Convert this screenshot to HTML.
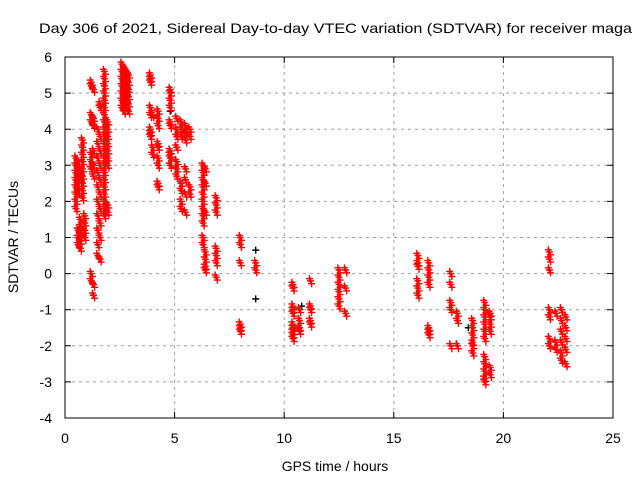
<!DOCTYPE html>
<html><head><meta charset="utf-8"><style>
body{margin:0;background:#fff}
svg{display:block;font-family:"Liberation Sans",sans-serif}
</style></head><body>
<svg id="chart" width="640" height="480" viewBox="0 0 640 480">
<rect width="640" height="480" fill="#fff"/>
<text x="39" y="33" font-size="14" textLength="593" lengthAdjust="spacingAndGlyphs">Day 306 of 2021, Sidereal Day-to-day VTEC variation (SDTVAR) for receiver maga</text>
<g id="grid"></g>
<g id="axes"></g>
<g id="marks"></g>
<rect x="65" y="57" width="548" height="361" fill="none" stroke="#000" stroke-width="1"/>
<text x="335" y="471" font-size="14" text-anchor="middle">GPS time / hours</text>
<text transform="translate(18,237) rotate(-90)" font-size="14" text-anchor="middle">SDTVAR / TECUs</text>
</svg>
<script>
const xTicks=[0,5,10,15,20,25];
const yTicks=[-4,-3,-2,-1,0,1,2,3,4,5,6];
// red series: [hour, [y values...]]
const redTracks=[
[0.5,[3.2,3.0,2.8,2.6,2.4,2.2,2.0,1.8]],
[0.6,[3.1,2.9,2.7,2.5,2.3,1.2,1.0,0.8]],
[0.7,[1.5,1.3,1.1,0.9,0.7,2.6,2.8]],
[0.8,[3.7,3.5,3.3,3.1,2.9,2.7,2.5,2.3,2.1]],
[0.9,[1.6,1.4,1.2,1.0]],
[1.2,[5.3,5.2,4.4,4.2,3.3,3.1,2.9,0.0,-0.2]],
[1.3,[5.1,4.3,4.1,3.4,3.0,2.7,-0.3,-0.6]],
[1.5,[4.0,3.6,3.2,2.8,2.4,2.0,1.6,1.2,0.8,0.5]],
[1.6,[4.7,4.6,3.8,3.4,3.0,2.6,2.2,1.8,1.4,1.0,0.4]],
[1.8,[5.6,5.4,5.2,5.0,4.8,4.6,4.4,4.2,4.0,3.8,3.6,3.4,3.2,3.0,2.8,2.6,2.4,2.2,2.0,1.8,1.6]],
[1.95,[4.2,4.0,3.8,3.6,3.4,3.2,3.0,1.9,1.7]],
[2.6,[5.8,5.6,5.4,5.2,5.0,4.8,4.6]],
[2.7,[5.7,5.5,5.3,5.1,4.9,4.7,4.5]],
[2.8,[5.6,5.4,5.2,5.0,4.8,4.6]],
[2.9,[5.5,5.3,5.1,4.9,4.7,4.5]],
[3.9,[5.5,5.4,5.3,4.6,4.4,4.0,3.9,3.8]],
[4.0,[4.4,3.5,3.3]],
[4.25,[4.5,4.3,4.1,3.6,3.5,3.2,3.0,2.5,2.4]],
[4.8,[5.1,5.0,4.8,4.6,4.2,4.1,3.4,3.3,3.2,3.0]],
[5.1,[4.3,4.0,3.8,3.5,3.1,2.9,2.7]],
[5.3,[4.2,4.0,3.8,2.5,2.3,2.0,1.8]],
[5.5,[4.1,3.9,3.7,2.9,2.6,2.2,1.7]],
[5.7,[4.0,3.8,2.4,2.2]],
[6.3,[3.0,2.8,2.6,2.4,2.2,2.0,1.8,1.6,1.4,1.0,0.8]],
[6.4,[2.9,2.5,1.7,0.6,0.4,0.2,0.1]],
[6.9,[2.1,1.9,1.7,0.7,0.5,0.3,-0.1]],
[8.0,[1.0,0.8,0.3,-1.4,-1.5,-1.6]],
[8.7,[0.3,0.1]],
[10.4,[-0.3,-0.4,-0.9,-1.0,-1.1,-1.4,-1.5,-1.6,-1.7,-1.8]],
[10.7,[-1.0,-1.3,-1.5,-1.6]],
[11.2,[-0.2,-0.9,-1.0,-1.3,-1.4]],
[12.5,[0.1,-0.1,-0.3,-0.5,-0.7,-0.9]],
[12.8,[0.1,-0.4,-1.1]],
[16.1,[0.5,0.3,0.2,-0.2,-0.4,-0.6]],
[16.6,[0.3,0.1,-0.1,-0.3,-1.5,-1.6,-1.7]],
[17.6,[0.0,-0.3,-0.8,-1.0,-2.0]],
[17.9,[-2.0,-1.1,-1.3]],
[18.6,[-1.3,-1.5,-1.7,-1.9,-2.0,-2.2]],
[19.15,[-0.8,-1.0,-1.2,-1.4,-1.6,-1.8,-2.3,-2.5,-2.7,-2.9,-3.0]],
[19.4,[-1.1,-1.2,-1.4,-1.6,-2.6,-2.8]],
[22.1,[0.6,0.4,0.1,-1.0,-1.2,-1.8,-2.0]],
[22.4,[-1.9,-2.1,-1.1]],
[22.65,[-1.0,-1.3,-1.6,-1.9,-2.2,-2.4]],
[22.85,[-1.2,-1.5,-1.8,-2.1,-2.5]]
];
const blackPts=[[8.7,0.65],[8.7,-0.7],[18.4,-1.5],[4.8,4.5],[10.8,-0.9]];

const X0=65,X1=613,Y0=418,Y1=57;
const xs=v=>X0+(v-0)/(25-0)*(X1-X0);
const ys=v=>Y0-(v-(-4))/(6-(-4))*(Y0-Y1);
const NS="http://www.w3.org/2000/svg";
const grid=document.getElementById('grid'),axes=document.getElementById('axes'),marks=document.getElementById('marks');
function mk(tag,attrs,parent){const e=document.createElementNS(NS,tag);for(const k in attrs)e.setAttribute(k,attrs[k]);parent.appendChild(e);return e;}
xTicks.forEach(t=>{
 const x=xs(t);
 if(t>0&&t<25){const g=mk('line',{x1:x,x2:x,y1:Y0,y2:Y1,stroke:'#a0a0a0','stroke-dasharray':'3,4'},grid);
 
 }
 const tk=mk('path',{d:`M${x},${Y0}v-6M${x},${Y1}v6`,stroke:'#000'},axes);
 
 
 const l=mk('text',{x:x,y:Y0+25,'font-size':14,'text-anchor':'middle'},axes);l.textContent=t;
 
 
});
yTicks.forEach(t=>{
 const y=ys(t);
 if(t>-4&&t<6){const g=mk('line',{x1:X0,x2:X1,y1:y,y2:y,stroke:'#a0a0a0','stroke-dasharray':'3,4'},grid);
 
 }
 const tk=mk('path',{d:`M${X0},${y}h6M${X1},${y}h-6`,stroke:'#000'},axes);
 
 
 const l=mk('text',{x:X0-13,y:y+5,'font-size':14,'text-anchor':'end'},axes);l.textContent=t;
 
 
});
function plus(h,v,col){
 const x=xs(h),y=ys(v);
 const p=mk('path',{d:`M${x-3.5},${y}h7M${x},${y-3.5}v7`,stroke:col,'stroke-width':1.4},marks);
 
 
}
blackPts.forEach(p=>plus(p[0],p[1],'#000'));
redTracks.forEach(tr=>tr[1].forEach(v=>{plus(tr[0],v,'#f00');plus(tr[0]+0.05,v-0.08,'#f00');plus(tr[0]-0.05,v+0.06,'#f00');}));
</script>
</body></html>
